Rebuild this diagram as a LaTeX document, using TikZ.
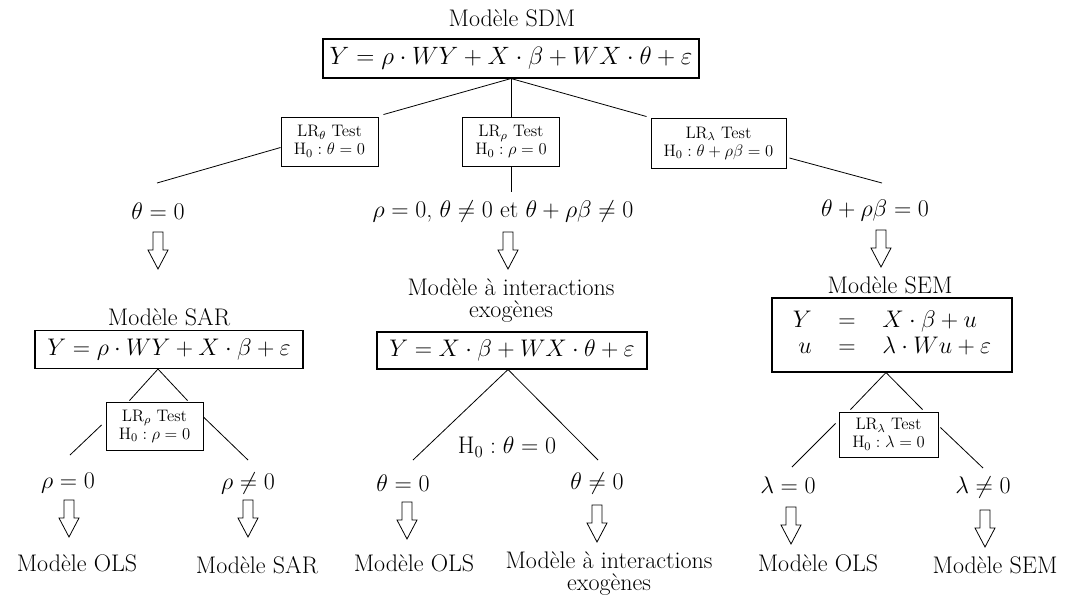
\RequirePackage{fix-cm}
\documentclass[tikz,border=0pt]{standalone}
\usetikzlibrary{calc}
\begin{document}
\begin{tikzpicture}[x=0.75pt,y=-0.75pt,
  big/.style={font=\fontsize{18}{19}\selectfont, inner sep=0pt},
  twoline/.style={font=\fontsize{18}{16.5}\selectfont, inner sep=0pt, align=center},
  eqbox/.style={draw, line width=0.8pt, font=\fontsize{18}{20}\selectfont, inner xsep=4pt, inner ysep=0pt},
  testbox/.style={draw, line width=0.7pt, font=\fontsize{12.5}{13.5}\selectfont, align=center, inner sep=1pt},
  conn/.style={line width=0.6pt},
  hdown/.pic={\draw[line width=0.6pt] (-5,0) -- (5,0) -- (5,18) -- (10,18) -- (0,37) -- (-10,18) -- (-5,18) -- cycle;}
]
\useasboundingbox (0,0) rectangle (1070,601);

% ---- top level
\node[big] (tsdm) at (512,18) {Modèle SDM};
\node[eqbox, font=\fontsize{18.8}{20}\selectfont, minimum width=376*0.75pt, minimum height=39*0.75pt] (sdm) at (511,58.5)
  {$Y=\rho\cdot WY+X\cdot\beta+WX\cdot\theta+\varepsilon$};

\node[testbox, minimum width=97*0.75pt, minimum height=49*0.75pt] (t1) at (329.5,141.5)
  {LR$_\theta$ Test\\$\mathrm{H}_0:\theta=0$};
\node[testbox, minimum width=97*0.75pt, minimum height=49*0.75pt] (t2) at (511,141.5)
  {LR$_\rho$ Test\\$\mathrm{H}_0:\rho=0$};
\node[testbox, minimum width=135*0.75pt, minimum height=50*0.75pt] (t3) at (718.5,143)
  {LR$_\lambda$ Test\\$\mathrm{H}_0:\theta+\rho\beta=0$};

\draw[conn] (sdm.south) -- ($(t1.north east)+(5,-2)$);
\draw[conn] (sdm.south) -- (t2.north);
\draw[conn] (sdm.south) -- ($(t3.north west)+(-4,-1)$);

\coordinate (e1) at (157,183);
\coordinate (e2) at (511,192);
\coordinate (e3) at (882,183);
\draw[conn] ($(t1.west)+(0,6)$) -- (e1);
\draw[conn] (t2.south) -- (e2);
\draw[conn] ($(t3.east)+(3,15)$) -- (e3);

% ---- level 2
\node[big] (l1) at (158,211) {$\theta=0$};
\node[big] (l2) at (503,211) {$\rho=0$, $\theta\neq0$ et $\theta+\rho\beta\neq0$};
\node[big] (l3) at (875,210) {$\theta+\rho\beta=0$};
\pic at (158,232) {hdown};
\pic at (508,232) {hdown};
\pic at (881,230) {hdown};

\node[big] (tsar) at (169,317) {Modèle SAR};
\node[eqbox, minimum width=268*0.75pt, minimum height=38*0.75pt] (sar) at (169,349.5)
  {$Y=\rho\cdot WY+X\cdot\beta+\varepsilon$};
\node[twoline] (tint) at (511,301) {Modèle à interactions\\exogènes};
\node[eqbox, minimum width=270*0.75pt, minimum height=37*0.75pt] (int) at (512,350.5)
  {$Y=X\cdot\beta+WX\cdot\theta+\varepsilon$};
\node[big] (tsem) at (890,285) {Modèle SEM};
\node[eqbox, minimum width=240*0.75pt, minimum height=74*0.75pt] (sem) at (892,335)
  {$\arraycolsep=10pt\begin{array}{rcl} Y & = & X\cdot\beta+u\\ u & = & \lambda\cdot Wu+\varepsilon\end{array}$};

% ---- level 3 tests
\node[testbox, minimum width=97*0.75pt, minimum height=48*0.75pt] (t4) at (154.5,426)
  {LR$_\rho$ Test\\$\mathrm{H}_0:\rho=0$};
\node[testbox, minimum width=99*0.75pt, minimum height=45*0.75pt] (t5) at (888.5,434.5)
  {LR$_\lambda$ Test\\$\mathrm{H}_0:\lambda=0$};
\node[big] (h0) at (507,447) {$\mathrm{H}_0:\theta=0$};

\draw[conn] ($(sar.south)+(-11,0)$) -- ($(t4.north)+(-25,-1)$);
\draw[conn] ($(sar.south)+(-11,0)$) -- ($(t4.north)+(33,-1)$);
\coordinate (e4) at (70,455);
\coordinate (e5) at (248,460);
\draw[conn] ($(t4.west)+(-4,-1)$) -- (e4);
\draw[conn] ($(t4.east)+(0,-9)$) -- (e5);

\coordinate (e6) at (413,460);
\coordinate (e7) at (598,460);
\draw[conn] ($(int.south)+(-4,0)$) -- (e6);
\draw[conn] ($(int.south)+(-4,0)$) -- (e7);

\draw[conn] ($(sem.south)+(-6,0)$) -- ($(t5.north)+(-38,-2)$);
\draw[conn] ($(sem.south)+(-6,0)$) -- ($(t5.north)+(34,-2)$);
\coordinate (e8) at (792,467);
\coordinate (e9) at (983,468);
\draw[conn] ($(t5.west)+(-3,-11)$) -- (e8);
\draw[conn] ($(t5.east)+(2,-7)$) -- (e9);

% ---- bottom labels
\node[big] (b1) at (68,483) {$\rho=0$};
\node[big] (b2) at (248,483) {$\rho\neq0$};
\node[big] (b3) at (403,483) {$\theta=0$};
\node[big] (b4) at (597,483) {$\theta\neq0$};
\node[big] (b5) at (788,485) {$\lambda=0$};
\node[big] (b6) at (983,487) {$\lambda\neq0$};
\pic at (69,500) {hdown};
\pic at (248,500) {hdown};
\pic at (407,502) {hdown};
\pic at (597,505) {hdown};
\pic at (791,507) {hdown};
\pic at (985,510) {hdown};

\node[big] (m1) at (77,563) {Modèle OLS};
\node[big] (m2) at (257,565) {Modèle SAR};
\node[big] (m3) at (414,563) {Modèle OLS};
\node[twoline] (m4) at (609,574) {Modèle à interactions\\exogènes};
\node[big] (m5) at (818,563) {Modèle OLS};
\node[big] (m6) at (995,565) {Modèle SEM};
\end{tikzpicture}
\end{document}
